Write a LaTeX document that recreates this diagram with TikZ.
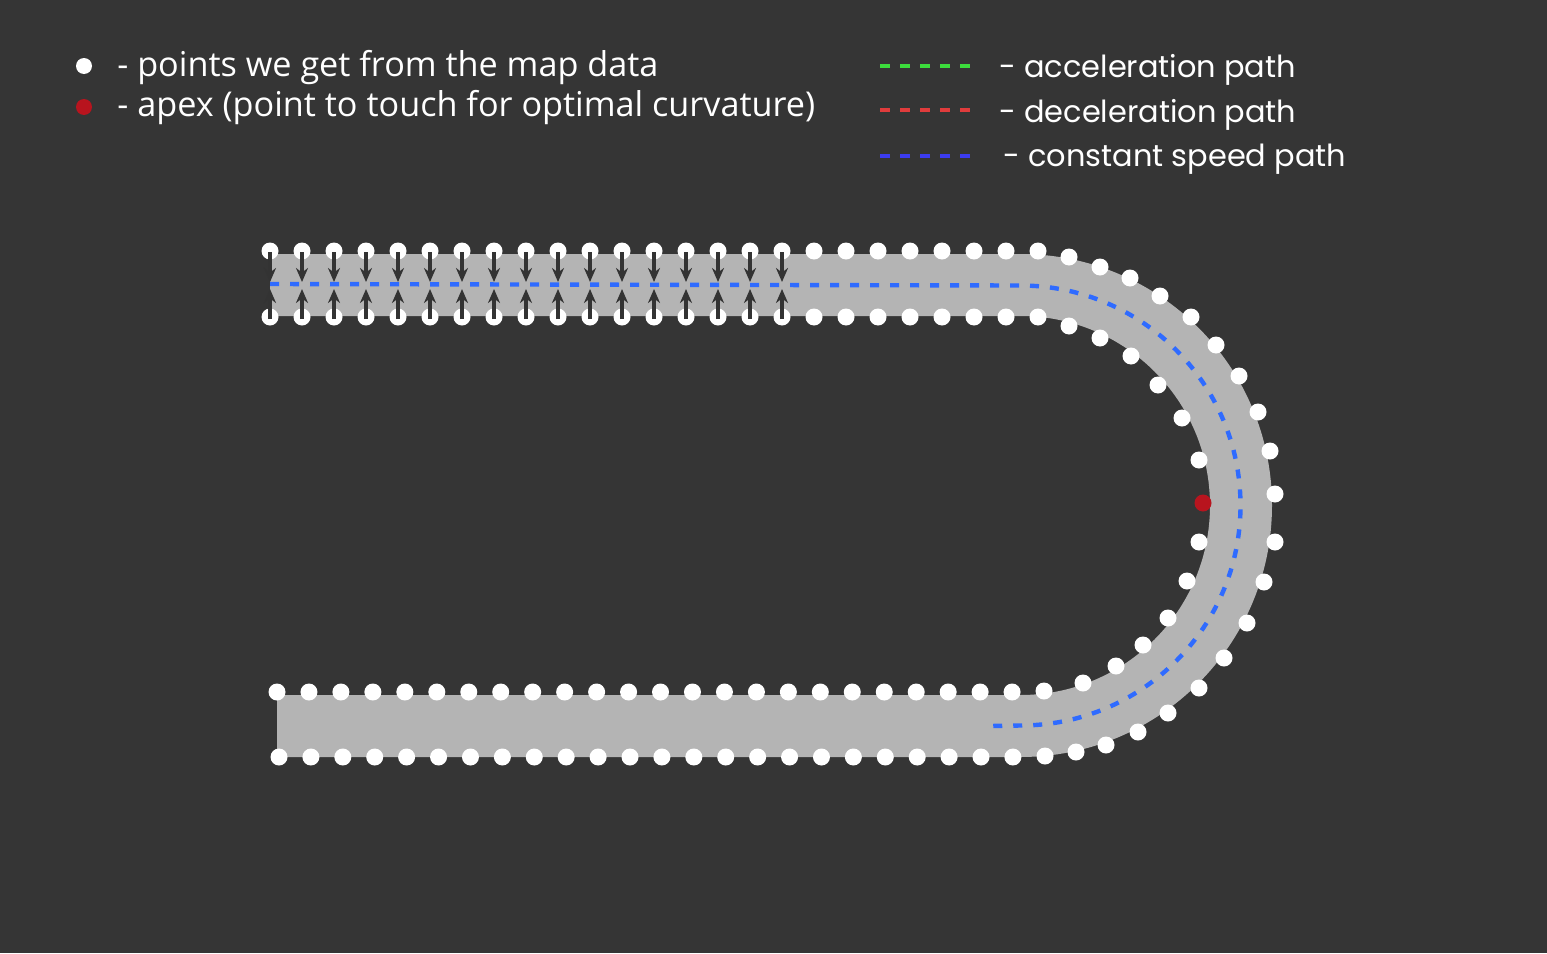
\documentclass[tikz,border=0pt]{standalone}
\usepackage{fontspec}
\setmainfont{Open Sans}
\newfontfamily\legendfont{Poppins}
\usetikzlibrary{arrows.meta}

\definecolor{bg}{HTML}{353535}
\definecolor{road}{HTML}{B4B4B4}
\definecolor{apexred}{HTML}{B8141E}
\definecolor{pathblue}{HTML}{2F6BFF}
\definecolor{accgreen}{HTML}{3CDC3C}
\definecolor{decred}{HTML}{E03C3C}
\definecolor{constblue}{HTML}{3C3CF0}
\definecolor{arrowgray}{HTML}{333333}

\tikzset{
  mapdot/.style={fill=white},
  pull/.style={draw=arrowgray, line width=2pt, -{Stealth[length=7pt,width=6pt]}},
  legenddash/.style={line width=2pt, dash pattern=on 5pt off 5pt},
  lefttext/.style={anchor=base west, text=white, inner sep=0pt, font=\fontsize{17.1}{20}\selectfont},
  righttext/.style={anchor=base west, text=white, inner sep=0pt, font=\legendfont\fontsize{15.2}{18}\selectfont}
}

\begin{document}
\begin{tikzpicture}[x=0.5pt,y=-0.5pt]
\fill[bg] (0,0) rectangle (1547,953);
\useasboundingbox (0,0) rectangle (1547,953);

% road band
\draw[road, line width=31pt] (270,285) -- (1020.5,285) arc(-90:90:220.5) -- (277,726);

% constant speed path
\draw[pathblue, line width=2.2pt, dash pattern=on 4.5pt off 5.5pt] (270,284) -- (1020.5,285.5) arc(-90:90:220) -- (990,726);

% map points, straight parts
\foreach \i in {0,...,24} {
  \fill[mapdot] (270+\i*32,251) circle (8.5);
  \fill[mapdot] (270+\i*32,317) circle (8.5);
}
\foreach \i in {0,...,23} {
  \fill[mapdot] (279+\i*31.91,757) circle (8.5);
  \fill[mapdot] (277+\i*31.96,692) circle (8.5);
}
% map points, turn
\foreach \p in {(1069,257),(1100,267),(1130,278),(1160,296),(1191,317),(1216,345),(1239,376),(1258,412),(1270,451),(1275,494),(1275,542),(1264,582),(1247,623),(1224,658),(1199,688),(1168,713),(1138,732),(1106,745),(1076,752),(1045,756)}
  \fill[mapdot] \p circle (8.5);
\foreach \p in {(1069,326),(1100,338),(1131,356),(1158,385),(1182,418),(1199,460),(1199,542),(1187,581),(1168,618),(1143,645),(1116,666),(1083,683),(1044,691)}
  \fill[mapdot] \p circle (8.5);
\fill[apexred] (1203,503) circle (8.5);

% pulls towards the middle
\foreach \i in {0,...,16} {
  \coordinate (top\i) at (270+\i*32,252);
  \coordinate (toptip\i) at (270+\i*32,282);
  \coordinate (bot\i) at (270+\i*32,319);
  \coordinate (bottip\i) at (270+\i*32,289);
  \draw[pull] (top\i) -- (toptip\i);
  \draw[pull] (bot\i) -- (bottip\i);
}

% legend
\fill[white] (84,66) circle (8);
\fill[apexred] (84,107) circle (8);
\node[lefttext] (datatext) at (117,76) {- points we get from the map data};
\node[lefttext] (apextext) at (117,116) {- apex (point to touch for optimal curvature)};

\draw[legenddash, accgreen] (880,66) -- (970,66);
\draw[legenddash, decred] (880,110) -- (970,110);
\draw[legenddash, constblue] (880,156) -- (970,156);
\node[righttext] (acctext) at (999,77) {- acceleration path};
\node[righttext] (dectext) at (999,122) {- deceleration path};
\node[righttext] (consttext) at (1003,166) {- constant speed path};
\end{tikzpicture}
\end{document}
